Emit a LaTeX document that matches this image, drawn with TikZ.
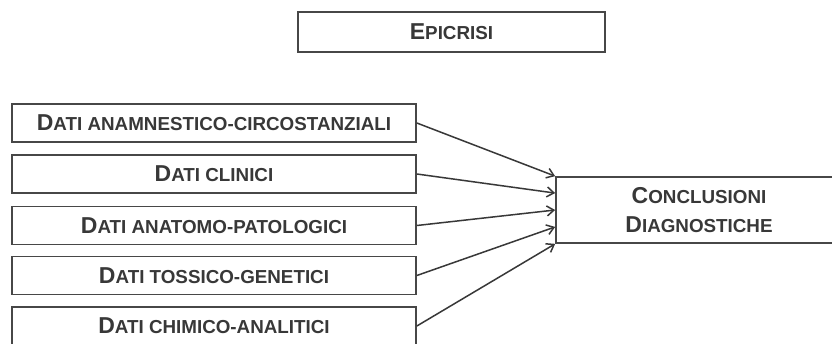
\documentclass[tikz,border=0pt]{standalone}
\usepackage{fontspec}
\setmainfont{Liberation Sans}
\usetikzlibrary{arrows.meta,positioning,calc}

% lettere minuscole in maiuscoletto
\newcommand{\piccolo}[1]{{\fontsize{18.8}{22}\selectfont #1}}

\tikzset{
  casella/.style={draw=black!72, line width=1.7pt, inner sep=0pt,
    text=black!78, font=\bfseries\fontsize{23}{29}\selectfont},
  databox/.style={casella, minimum width=404pt, minimum height=38pt},
  freccia/.style={-{Straight Barb[length=7pt,width=10pt,line width=1.5pt]}, line width=1.5pt, draw=black!78}
}

\begin{document}
\begin{tikzpicture}[x=1pt,y=-1pt]
    \path[use as bounding box, fill=white] (0,0) rectangle (832,343);

    \node[casella, minimum width=307pt, minimum height=40pt] (epi) at (451.5,32)
        {E\piccolo{PICRISI}};

    \foreach \n/\y/\t in {d1/123/{D\piccolo{ATI ANAMNESTICO-CIRCOSTANZIALI}},
                          d2/174/{D\piccolo{ATI CLINICI}},
                          d3/225.5/{D\piccolo{ATI ANATOMO-PATOLOGICI}},
                          d4/275.5/{D\piccolo{ATI TOSSICO-GENETICI}},
                          d5/326/{D\piccolo{ATI CHIMICO-ANALITICI}}}
        \node[databox] (\n) at (214,\y) {\t};

    \node[casella, minimum width=286pt, minimum height=66pt, align=center] (concl) at (699,210)
        {C\piccolo{ONCLUSIONI}\\D\piccolo{IAGNOSTICHE}};

    \foreach \i in {1,...,5}
        \draw[freccia] (d\i.east) -- ($(concl.north west)!{(\i-1)/4}!(concl.south west)$);
\end{tikzpicture}
\end{document}
